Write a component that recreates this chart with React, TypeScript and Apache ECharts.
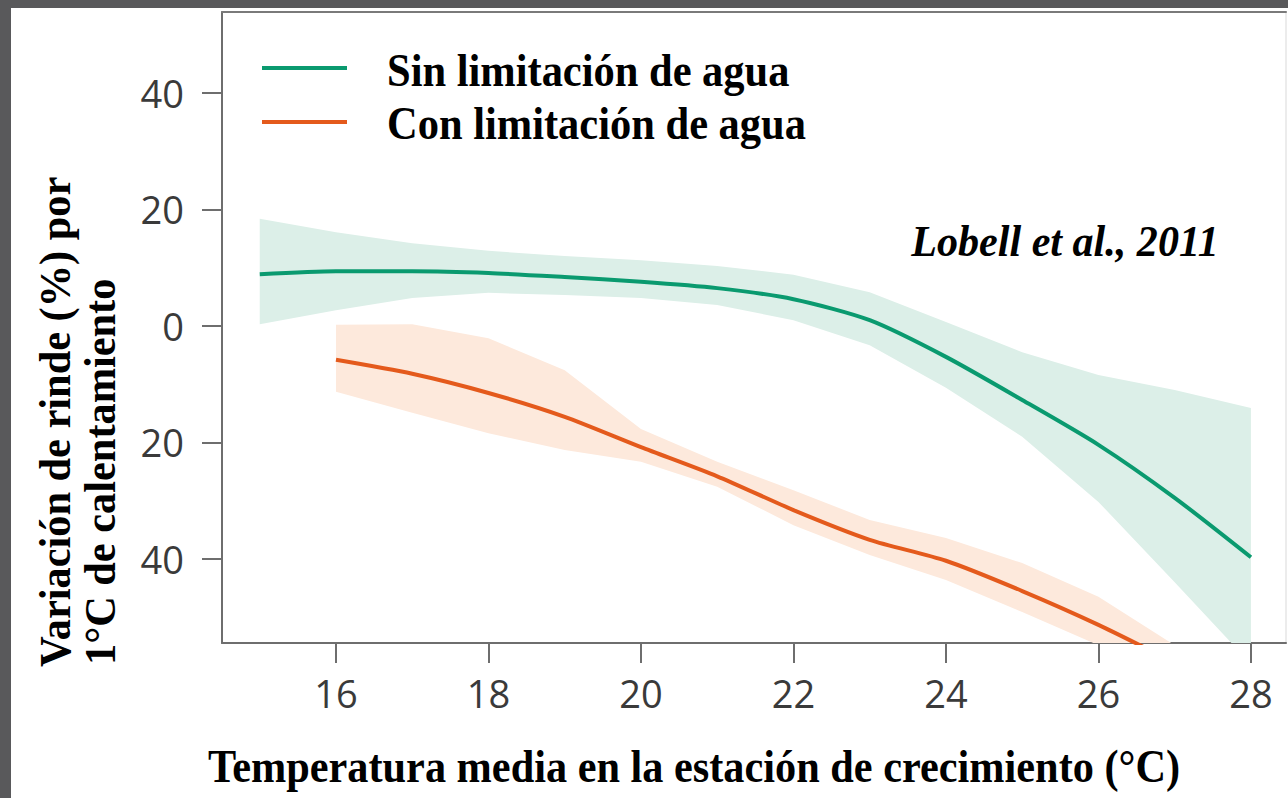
import React, { useEffect, useRef } from "react";
import * as echarts from "echarts";

const xTicks = [16, 18, 20, 22, 24, 26, 28];
const yTicks = [-40, -20, 0, 20, 40];

const tempsSin = [15, 16, 17, 18, 19, 20, 21, 22, 23, 24, 25, 26, 27, 28];
const sinMid = [8.9, 9.4, 9.4, 9.1, 8.4, 7.6, 6.5, 4.6, 1.0, -5.3, -12.7, -20.4, -29.5, -39.7];
const sinUpper = [18.4, 16.1, 14.2, 12.9, 12.0, 11.3, 10.3, 8.8, 5.8, 0.7, -4.5, -8.4, -11.0, -14.1];
const sinLower = [0.3, 2.7, 4.8, 5.7, 5.3, 4.8, 3.6, 1.0, -3.3, -10.6, -19.0, -30.2, -44.0, -58.0];

const tempsCon = [16, 17, 18, 19, 20, 21, 22, 23, 24, 25, 26, 27];
const conMid = [-5.8, -8.2, -11.5, -15.6, -20.8, -25.8, -31.6, -36.7, -40.3, -45.5, -51.3, -57.8];
const conUpper = [0.2, 0.3, -2.1, -7.6, -17.7, -23.3, -28.2, -33.3, -36.4, -40.7, -46.5, -54.8];
const conLower = [-11.3, -14.9, -18.4, -21.3, -23.3, -27.6, -34.2, -39.3, -43.6, -49.1, -54.8, -62.0];

const seriesNames = ["Sin limitación de agua", "Con limitación de agua"];
const yTitle = ["Variación de rinde (%) por", "1°C de calentamiento"];
const xTitle = "Temperatura media en la estación de crecimiento (°C)";
const citation = "Lobell et al., 2011";

const GREEN = "#0a9a6f";
const ORANGE = "#e45a1c";
const GREEN_BAND = "#dcefe8";
const ORANGE_BAND = "#fde9dc";
const AXIS = "#6e6e6e";
const SERIF = "'Liberation Serif', 'Times New Roman', serif";
const SANS = "'Open Sans', 'Noto Sans', sans-serif";

export default function App() {
  const ref = useRef<HTMLDivElement>(null);

  useEffect(() => {
    if (!ref.current) return;
    const chart = echarts.init(ref.current, undefined, { renderer: "svg" });

    const pairs = (xs: number[], ys: number[]) => xs.map((x, i) => [x, ys[i]]);

    // Confidence band drawn as one polygon through the axes' own scales (api.coord)
    const band = (name: string, xs: number[], hi: number[], lo: number[], color: string) => ({
      name: name + "-band",
      type: "custom",
      silent: true,
      z: 1,
      clip: true,
      data: xs.map((x, i) => [x, lo[i], hi[i]]),
      encode: { x: 0, y: [1, 2] },
      renderItem: (params: any, api: any) => {
        if (params.dataIndex !== 0) return null;
        const top = xs.map((x, i) => api.coord([x, hi[i]]));
        const bottom = xs.map((x, i) => api.coord([x, lo[i]])).reverse();
        const cs = params.coordSys;
        return {
          type: "group",
          children: [
            {
              type: "polygon",
              shape: { points: top.concat(bottom) },
              style: { fill: color, stroke: "none" },
            },
          ],
          clipPath: { type: "rect", shape: { x: cs.x, y: cs.y, width: cs.width, height: cs.height } },
        };
      },
    });

    const titleText = (text: string, x: number, y: number, size: number, scale: number, extra: any = {}) => ({
      type: "text",
      x,
      y,
      scaleX: scale,
      rotation: extra.rotation || 0,
      style: {
        text,
        fill: "#000",
        fontSize: size,
        fontWeight: "bold",
        fontStyle: extra.italic ? "italic" : "normal",
        fontFamily: SERIF,
        align: extra.align || "left",
        verticalAlign: "middle",
      },
    });

    chart.setOption({
      animation: false,
      backgroundColor: "#ffffff",
      grid: { left: 211, top: 4, right: 2, bottom: 155, containLabel: false },
      xAxis: [
        {
          type: "value",
          min: 14.505,
          max: 28.46,
          axisLine: { show: true, onZero: false, lineStyle: { color: AXIS, width: 2 } },
          axisTick: { show: true, length: 20, customValues: xTicks, lineStyle: { color: AXIS, width: 2 } },
          axisLabel: {
            customValues: xTicks,
            margin: 31,
            color: "#3a3a3a",
            fontSize: 38,
            fontFamily: SANS,
          },
          splitLine: { show: false },
        },
        {
          type: "value",
          position: "top",
          min: 14.505,
          max: 28.46,
          axisLine: { show: true, onZero: false, lineStyle: { color: "#7a7a7a", width: 2 } },
          axisTick: { show: false },
          axisLabel: { show: false },
          splitLine: { show: false },
        },
      ],
      yAxis: [
        {
          type: "value",
          min: -54.42,
          max: 53.9,
          axisLine: { show: true, onZero: false, lineStyle: { color: AXIS, width: 2 } },
          axisTick: { show: true, length: 20, customValues: yTicks, lineStyle: { color: AXIS, width: 2 } },
          axisLabel: {
            customValues: yTicks,
            margin: 38,
            color: "#3a3a3a",
            fontSize: 38,
            fontFamily: SANS,
            formatter: (v: number) => String(Math.abs(v)),
          },
          splitLine: { show: false },
        },
        {
          type: "value",
          position: "right",
          min: -54.42,
          max: 53.9,
          axisLine: { show: true, onZero: false, lineStyle: { color: "#ececec", width: 2 } },
          axisTick: { show: false },
          axisLabel: { show: false },
          splitLine: { show: false },
        },
      ],
      series: [
        band("sin", tempsSin, sinUpper, sinLower, GREEN_BAND),
        band("con", tempsCon, conUpper, conLower, ORANGE_BAND),
        {
          name: seriesNames[0],
          type: "line",
          data: pairs(tempsSin, sinMid),
          symbol: "none",
          smooth: 0.25,
          lineStyle: { color: GREEN, width: 4 },
          z: 5,
        },
        {
          name: seriesNames[1],
          type: "line",
          data: pairs(tempsCon, conMid),
          symbol: "none",
          smooth: 0.25,
          lineStyle: { color: ORANGE, width: 4 },
          z: 5,
        },
      ],
      graphic: [
        { type: "line", shape: { x1: 251, y1: 60, x2: 336, y2: 60 }, style: { stroke: GREEN, lineWidth: 4 } },
        { type: "line", shape: { x1: 251, y1: 114, x2: 336, y2: 114 }, style: { stroke: ORANGE, lineWidth: 4 } },
        titleText(seriesNames[0], 376, 63, 46, 0.924),
        titleText(seriesNames[1], 376, 116, 46, 0.924),
        titleText(citation, 1054, 233, 44, 0.957, { italic: true, align: "center" }),
        titleText(xTitle, 683, 759, 46, 0.92, { align: "center" }),
        titleText(yTitle[0], 44, 659, 44, 0.963, { rotation: Math.PI / 2 }),
        titleText(yTitle[1], 89, 657, 44, 0.963, { rotation: Math.PI / 2 }),
      ],
    });

    return () => chart.dispose();
  }, []);

  return (
    <div style={{ position: "fixed", left: 0, top: 0, width: 1288, height: 798, background: "#59595b", overflow: "hidden" }}>
      <div ref={ref} style={{ position: "absolute", left: 11, top: 8, width: 1277, height: 790, background: "#fff" }} />
    </div>
  );
}
